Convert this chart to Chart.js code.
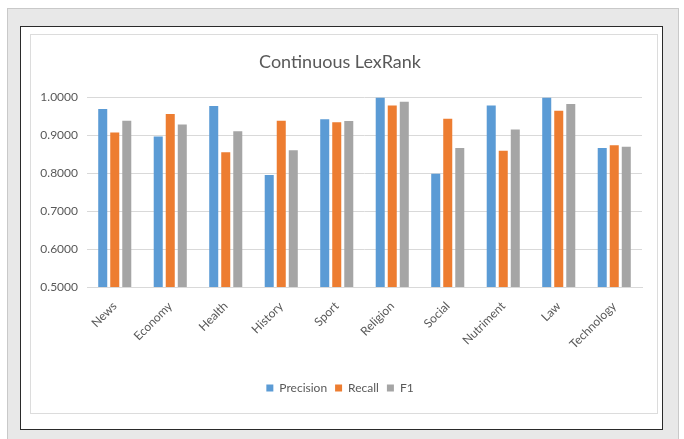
<!DOCTYPE html>
<html lang="en">
<head>
    <meta charset="UTF-8">
    <title>Continuous LexRank</title>
    <script src="https://cdn.jsdelivr.net/npm/chart.js"></script>
    <style>
        body { margin: 0; background: #fff; width: 684px; height: 439px; position: relative; overflow: hidden; font-family: Lato, sans-serif; }
        .frame { position: absolute; left: 7px; top: 8px; width: 670px; height: 440px; background: #e8e8e8; border: 1px solid #c9c9c9; }
        .box { position: absolute; left: 20px; top: 26px; width: 641px; height: 402px; background: #fff; border: 1.5px solid #2a2a2a; }
        .inner { position: absolute; left: 30px; top: 34px; width: 626px; height: 378px; border: 1px solid #dcdcdc; background: #fff; }
        .chart-container { position: absolute; left: 0; top: 0; width: 626px; height: 378px; }
    </style>
</head>
<body>
    <div class="frame"></div>
    <div class="box"></div>
    <div class="inner">
        <div class="chart-container">
            <canvas id="lexChart"></canvas>
        </div>
    </div>

    <script>
        const categories = ['News', 'Economy', 'Health', 'History', 'Sport', 'Religion', 'Social', 'Nutriment', 'Law', 'Technology'];
        const precision = [0.970, 0.897, 0.978, 0.796, 0.943, 1.000, 0.799, 0.979, 1.000, 0.867];
        const recall    = [0.908, 0.957, 0.856, 0.939, 0.935, 0.979, 0.944, 0.860, 0.965, 0.874];
        const f1        = [0.939, 0.929, 0.911, 0.861, 0.938, 0.989, 0.867, 0.916, 0.983, 0.870];

        const grey = '#595959';

        function bars(label, data, color) {
            return {
                label: label,
                data: data,
                backgroundColor: color,
                borderWidth: 0,
                barPercentage: 0.75,
                categoryPercentage: 0.65
            };
        }

        new Chart(document.getElementById('lexChart'), {
            type: 'bar',
            data: {
                labels: categories,
                datasets: [
                    bars('Precision', precision, '#5b9bd5'),
                    bars('Recall', recall, '#ed7d31'),
                    bars('F1', f1, '#a5a5a5')
                ]
            },
            options: {
                responsive: true,
                maintainAspectRatio: false,
                animation: false,
                layout: { padding: { left: 7, right: 15, top: 0, bottom: 9 } },
                plugins: {
                    title: {
                        display: true,
                        text: 'Continuous LexRank',
                        color: grey,
                        font: { family: 'Lato', size: 18, weight: 'normal' },
                        padding: { top: 16, bottom: 25 }
                    },
                    legend: {
                        position: 'bottom',
                        labels: {
                            color: grey,
                            font: { family: 'Lato', size: 12 },
                            boxWidth: 7,
                            boxHeight: 7,
                            padding: 8
                        }
                    },
                    tooltip: { enabled: false }
                },
                scales: {
                    x: {
                        afterFit: (scale) => { scale.height = 87; },
                        grid: { display: false, drawTicks: false },
                        border: { color: '#d9d9d9' },
                        ticks: {
                            color: grey,
                            font: { family: 'Lato', size: 12 },
                            minRotation: 45,
                            maxRotation: 45,
                            padding: 12
                        }
                    },
                    y: {
                        min: 0.5,
                        max: 1.0,
                        afterFit: (scale) => { scale.width = 49; },
                        grid: { color: '#d9d9d9', drawTicks: false },
                        border: { display: false },
                        ticks: {
                            stepSize: 0.1,
                            color: grey,
                            font: { family: 'Lato', size: 12 },
                            padding: 9,
                            callback: (v) => v.toFixed(4)
                        }
                    }
                }
            }
        });
    </script>
</body>
</html>
